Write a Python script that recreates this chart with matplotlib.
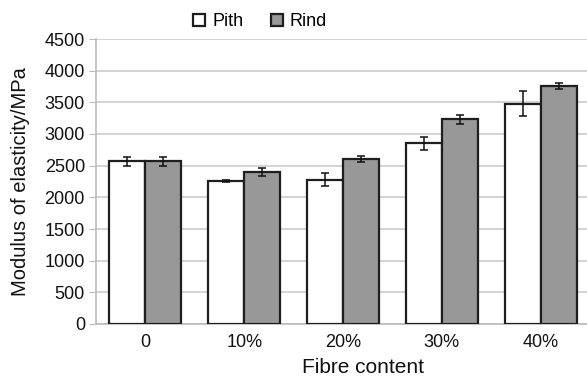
import numpy as np
import matplotlib.pyplot as plt

plt.rcParams['font.family'] = ['Liberation Sans', 'DejaVu Sans']

# Modulus of elasticity (MPa) by fibre content
categories = ['0', '10%', '20%', '30%', '40%']
pith = [2570, 2260, 2280, 2850, 3480]
pith_err = [70, 20, 100, 100, 200]
rind = [2570, 2400, 2605, 3235, 3755]
rind_err = [70, 65, 50, 70, 45]

fig = plt.figure(figsize=(5.87, 3.77), dpi=100)
ax = fig.add_axes([96 / 587, 1 - 324 / 377, 494 / 587, 285 / 377])

x = np.arange(len(categories))
w = 0.365
edge = '#1e1e1e'
ax.bar(x - w / 2, pith, w, color='white', edgecolor=edge, linewidth=1.6,
       label='Pith', zorder=3)
ax.bar(x + w / 2, rind, w, color='#989898', edgecolor=edge, linewidth=1.6,
       label='Rind', zorder=3)
ax.errorbar(x - w / 2, pith, yerr=pith_err, fmt='none', ecolor='#111111',
            elinewidth=1.1, capsize=3, capthick=1.1, zorder=4)
ax.errorbar(x + w / 2, rind, yerr=rind_err, fmt='none', ecolor='#111111',
            elinewidth=1.1, capsize=3, capthick=1.1, zorder=4)

ax.set_xlim(-0.5, len(categories) - 0.5)
ax.set_ylim(0, 4500)
ax.set_yticks(np.arange(0, 4501, 500))
ax.set_xticks(x)
ax.set_xticklabels(categories)
ax.yaxis.grid(True, color='#cccccc', linewidth=1.2, zorder=0)
ax.set_axisbelow(True)

for s in ['top', 'right']:
    ax.spines[s].set_visible(False)
ax.spines['left'].set_color('#bbbbbb')
ax.spines['bottom'].set_color('#bbbbbb')
ax.spines['left'].set_linewidth(1.2)
ax.spines['bottom'].set_linewidth(1.2)
ax.tick_params(axis='y', length=5, color='#bbbbbb', labelsize=13, pad=3,
               labelcolor='#111111')
ax.tick_params(axis='x', length=0, labelsize=13, pad=7, labelcolor='#111111')

# axis titles placed in figure coordinates
fig.text(21 / 587, 1 - 181.5 / 377, 'Modulus of elasticity/MPa', rotation=90,
         ha='center', va='center', fontsize=14.5, color='#111111')
fig.text(363.5 / 587, 1 - 373 / 377, 'Fibre content', ha='center',
         va='baseline', fontsize=15, color='#111111')

fig.legend(loc='center left', bbox_to_anchor=(184 / 587, 1 - 22 / 377),
           ncol=2, frameon=False, fontsize=13, borderpad=0,
           handlelength=0.67, handleheight=0.67, handletextpad=0.4,
           columnspacing=1.5)

fig.savefig('out.png', dpi=100)
